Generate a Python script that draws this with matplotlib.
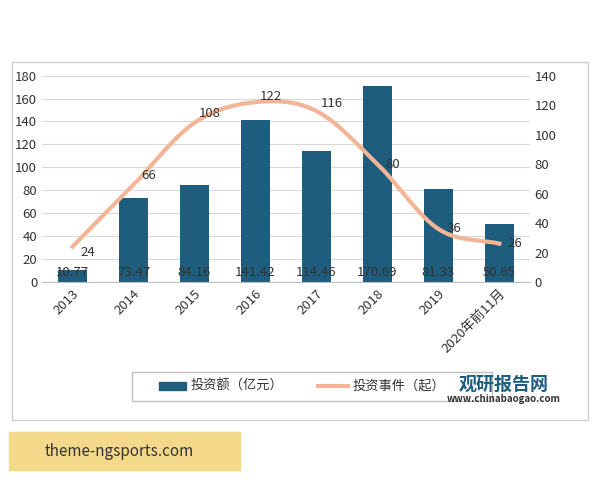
import matplotlib.pyplot as plt
import numpy as np
from matplotlib.patches import Rectangle

plt.rcParams['font.family'] = ['Noto Sans CJK SC', 'DejaVu Sans']

years = ['2013', '2014', '2015', '2016', '2017', '2018', '2019', '2020年前11月']
amount = [10.77, 73.47, 84.16, 141.42, 114.46, 170.69, 81.33, 50.65]
events = [24, 66, 108, 122, 116, 80, 36, 26]

bar_color = '#1f5d7e'
line_color = '#f4b596'


def smooth(x, y, n=30):
    # catmull-rom, roughly like excel's smoothed line
    x = np.asarray(x, float)
    y = np.asarray(y, float)
    px = np.concatenate([[2 * x[0] - x[1]], x, [2 * x[-1] - x[-2]]])
    py = np.concatenate([[2 * y[0] - y[1]], y, [2 * y[-1] - y[-2]]])
    xs, ys = [], []
    t = np.linspace(0, 1, n)
    for i in range(1, len(px) - 2):
        for p, out in ((px, xs), (py, ys)):
            p0, p1, p2, p3 = p[i - 1], p[i], p[i + 1], p[i + 2]
            out.extend(0.5 * (2 * p1 + (-p0 + p2) * t + (2 * p0 - 5 * p1 + 4 * p2 - p3) * t ** 2
                              + (-p0 + 3 * p1 - 3 * p2 + p3) * t ** 3))
    return xs, ys


fig = plt.figure(figsize=(6, 4.8), dpi=100)
fig.patches.append(Rectangle((0.02, 0.125), 0.96, 0.745, transform=fig.transFigure,
                             fill=False, edgecolor='#d0d0d0', lw=1))
ax = fig.add_axes([0.07, 0.4125, 0.813, 0.43])
ax2 = ax.twinx()
x = np.arange(len(years))
ax.bar(x, amount, width=0.47, color=bar_color, zorder=2)
ax.set_ylim(0, 180)
ax.set_yticks(range(0, 181, 20))
ax2.set_ylim(0, 140)
ax2.set_yticks(range(0, 141, 20))
ax.set_xlim(-0.5, len(years) - 0.5)
ax.grid(axis='y', color='#d9d9d9', lw=0.8, zorder=0)
ax.set_axisbelow(True)
ax.set_xticks(x)
ax.set_xticklabels(years, rotation=45, ha='right', rotation_mode='anchor')
for a in (ax, ax2):
    for s in a.spines.values():
        s.set_visible(False)
    a.tick_params(length=0, labelsize=9.5, colors='#333333')
ax.spines['bottom'].set_visible(True)
ax.spines['bottom'].set_color('#bfbfbf')

for xi, v in zip(x, amount):
    ax.text(xi, 8, f'{v:.2f}', ha='center', va='center', fontsize=9.5, color='#333333', zorder=5)

sx, sy = smooth(x, events)
ax2.plot(sx, sy, color=line_color, lw=3, zorder=3)
offs = [(0.25, -4), (0.25, 6), (0.25, 6), (0.25, 4), (0.25, 5), (0.25, 0), (0.25, 0), (0.25, 0)]
for xi, v, (dx, dy) in zip(x, events, offs):
    ax2.text(xi + dx, v + dy, str(v), ha='center', va='center', fontsize=9.5, color='#333333', zorder=5)

# legend box
fig.patches.append(Rectangle((0.22, 0.165), 0.6, 0.06, transform=fig.transFigure,
                             fill=False, edgecolor='#bfbfbf', lw=1))
fig.patches.append(Rectangle((0.265, 0.188), 0.045, 0.016, transform=fig.transFigure,
                             color=bar_color))
fig.text(0.318, 0.196, '投资额（亿元）', fontsize=9.5, va='center', color='#333333')
fig.add_artist(plt.Line2D([0.53, 0.58], [0.196, 0.196], transform=fig.transFigure,
                          color=line_color, lw=3))
fig.text(0.588, 0.196, '投资事件（起）', fontsize=9.5, va='center', color='#333333')

fig.text(0.84, 0.2, '观研报告网', fontsize=13, weight='bold', color='#1f5d7e', ha='center', va='center')
fig.text(0.84, 0.168, 'www.chinabaogao.com', fontsize=7, weight='bold', color='#333333',
         ha='center', va='center')

fig.patches.append(Rectangle((0.015, 0.02), 0.385, 0.08, transform=fig.transFigure,
                             color='#f5d98a', zorder=10))
fig.text(0.075, 0.06, 'theme-ngsports.com', fontsize=11, va='center', color='#333333', zorder=11)

fig.savefig('out.png', dpi=100)
